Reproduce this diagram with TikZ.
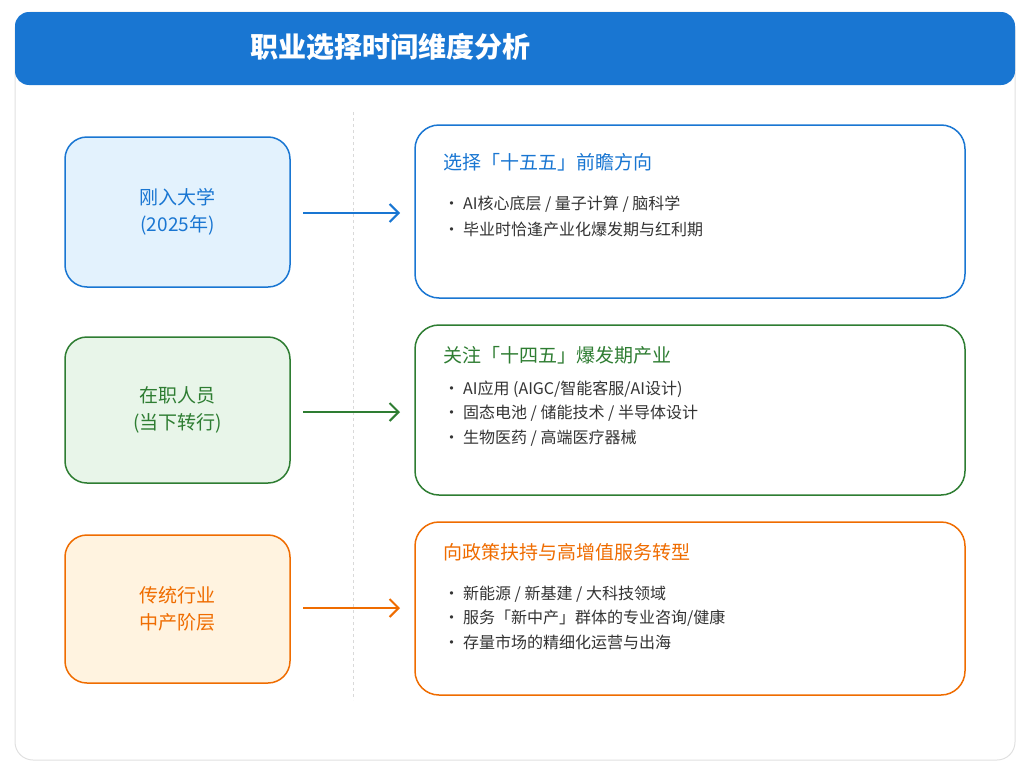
\documentclass[tikz,border=0pt]{standalone}
\usepackage{fontspec}
\setmainfont{Noto Sans CJK SC}
\usetikzlibrary{arrows.meta,positioning}
\definecolor{cblue}{HTML}{1976D2}
\definecolor{fblue}{HTML}{E3F2FD}
\definecolor{cgreen}{HTML}{2E7D32}
\definecolor{fgreen}{HTML}{E8F5E9}
\definecolor{corange}{HTML}{EF6C00}
\definecolor{forange}{HTML}{FFF3E0}
\tikzset{
  era/.style={draw=#1, line width=1.5pt, rounded corners=22pt, align=center, font=\fontsize{19}{27}\selectfont, text=#1},
  plan/.style={draw=#1, line width=1.5pt, rounded corners=24pt, fill=white},
  head/.style={anchor=west, text=#1, font=\fontsize{19}{22}\selectfont},
  item/.style={anchor=west, text=black!80, font=\fontsize{16}{18}\selectfont},
  go/.style={draw=#1, line width=2pt, -{Straight Barb[length=9pt,width=18pt]}}
}
\newcommand{\bul}{\textbullet\ }
\begin{document}
\begin{tikzpicture}[x=1pt,y=-1pt]
\useasboundingbox (0,0) rectangle (1025,779);
\draw[black!12, line width=1pt, rounded corners=18pt] (15,12) rectangle (1015,760);
\fill[cblue, rounded corners=14pt] (15,12) rectangle (1015,85);
\node[text=white, font=\fontsize{28}{32}\selectfont\bfseries] (title) at (390,47) {职业选择时间维度分析};
\coordinate (dtop) at (353,112); \coordinate (dbot) at (353,700);
\draw[black!15, dashed, line width=1pt] (dtop) -- (dbot);
% row 1
\node[era=cblue, fill=fblue, minimum width=225pt, minimum height=150pt] (new) at (177.5,212) {刚入大学\\(2025年)};
\draw[plan=cblue] (415,125) rectangle (965,298);
\coordinate (s1) at (303,213); \coordinate (p1) at (400,213);
\draw[go=cblue] (s1) -- (p1);
\node[head=cblue] (h1) at (440,162) {选择「十五五」前瞻方向};
\node[item] (a1) at (440,204) {\bul\textit{AI}核心底层 / 量子计算 / 脑科学};
\node[item] (a2) at (440,229) {\bul 毕业时恰逢产业化爆发期与红利期};
% row 2
\node[era=cgreen, fill=fgreen, minimum width=225pt, minimum height=146pt] (job) at (177.5,410) {在职人员\\(当下转行)};
\draw[plan=cgreen] (415,325) rectangle (965,495);
\coordinate (s2) at (303,412); \coordinate (p2) at (400,412);
\draw[go=cgreen] (s2) -- (p2);
\node[head=cgreen] (h2) at (440,355) {关注「十四五」爆发期产业};
\node[item] (b1) at (440,389) {\bul\textit{AI}应用 (\textit{AIGC}/智能客服/\textit{AI}设计)};
\node[item] (b2) at (440,413) {\bul 固态电池 / 储能技术 / 半导体设计};
\node[item] (b3) at (440,438) {\bul 生物医药 / 高端医疗器械};
% row 3
\node[era=corange, fill=forange, minimum width=225pt, minimum height=148pt] (mid) at (177.5,609) {传统行业\\中产阶层};
\draw[plan=corange] (415,522) rectangle (965,695);
\coordinate (s3) at (303,608); \coordinate (p3) at (400,608);
\draw[go=corange] (s3) -- (p3);
\node[head=corange] (h3) at (440,552) {向政策扶持与高增值服务转型};
\node[item] (c1) at (440,594) {\bul 新能源 / 新基建 / 大科技领域};
\node[item] (c2) at (440,618) {\bul 服务「新中产」群体的专业咨询/健康};
\node[item] (c3) at (440,642) {\bul 存量市场的精细化运营与出海};
\end{tikzpicture}
\end{document}
